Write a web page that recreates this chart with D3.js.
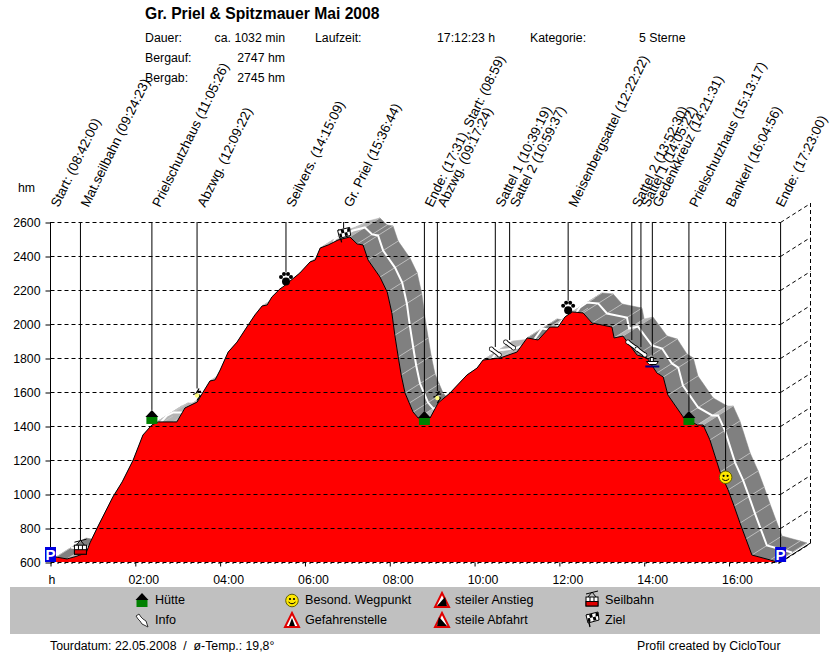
<!DOCTYPE html>
<html lang="en">
<head>
<meta charset="UTF-8">
<title>Gr. Priel & Spitzmauer Mai 2008</title>
<script src="https://d3js.org/d3.v7.min.js"></script>
<style>
  body { margin: 0; background: #fff; }
  text { font-family: "Liberation Sans", Arial, sans-serif; font-size: 12.3px; fill: #000; white-space: pre; }
</style>
</head>
<body>
<svg width="830" height="652"></svg>
<script>
// hours since start, height in hm
const profileHours = [0.13,0.39,0.58,0.84,0.93,1.10,1.47,1.69,1.95,2.18,2.39,2.54,2.89,2.98,3.17,3.46,3.60,3.76,3.88,4.00,4.19,4.40,4.63,4.82,4.99,5.11,5.22,5.41,5.48,5.88,6.12,6.24,6.36,6.55,6.78,7.06,7.23,7.37,7.49,7.77,7.94,8.05,8.12,8.20,8.27,8.36,8.46,8.55,8.67,8.95,9.14,9.42,9.82,10.06,10.20,10.60,11.00,11.24,11.50,11.78,11.97,12.13,12.30,12.56,12.77,13.24,13.29,13.50,13.83,14.07,14.30,14.45,14.56,14.92,15.25,15.39,15.55,15.79,15.98,16.12,16.26,16.40,16.54,16.97,17.13];
const profileHeights = [629,618,631,653,712,800,982,1071,1200,1347,1406,1424,1424,1424,1506,1541,1600,1665,1671,1729,1835,1894,1982,2053,2106,2112,2159,2206,2218,2300,2365,2376,2447,2465,2494,2512,2471,2465,2376,2276,2188,2065,1934,1806,1700,1594,1535,1482,1447,1447,1535,1594,1700,1741,1788,1800,1835,1918,1906,1982,1982,2041,2071,2065,2006,1982,1918,1929,1818,1800,1712,1688,1582,1453,1406,1406,1318,1129,1024,929,829,735,641,612,600];

const markerLabels = ["Start: (08:42:00)","Mat.seilbahn (09:24:23)","Prielschutzhaus (11:05:26)","Abzwg. (12:09:22)","Seilvers. (14:15:09)","Gr. Priel (15:36:44)","Ende: (17:31), Start: (08:59)","Abzwg. (09:17:24)","Sattel 1 (10:39:19)","Sattel 2 (10:59:37)","Meisenbergsattel (12:22:22)","Sattel 2 (13:52:30)","Sattel 1 (14:05:22)","Gedenkkreuz (14:21:31)","Prielschutzhaus (15:13:17)","Bankerl (16:04:56)","Ende: (17:23:00)"];
const markerHours = [0,0.706,2.391,3.456,5.553,6.912,8.817,9.123,10.489,10.827,12.207,13.708,13.923,14.192,15.055,15.92,17.217];
const markerHeights = [600,640,1412,1550,2230,2480,1406,1535,1806,1847,2060,1847,1806,1750,1406,1060,600];
const markerIcons = ["park","gondola","hut","info","paw","flag","hut","info","bone","bone","paw","bone","bone","cross","hut","smile","park"];

const heightTicks = [600,800,1000,1200,1400,1600,1800,2000,2200,2400,2600];
const hourTicks = [0,2,4,6,8,10,12,14,16];
const hourTickLabels = ["h","02:00","04:00","06:00","08:00","10:00","12:00","14:00","16:00"];

const legendCol1 = [["hut","Hütte"],["pin","Info"]];
const legendCol2 = [["smile","Besond. Wegpunkt"],["danger","Gefahrenstelle"]];
const legendCol3 = [["up","steiler Anstieg"],["down","steile Abfahrt"]];
const legendCol4 = [["gondola","Seilbahn"],["flag","Ziel"]];

const svg = d3.select("svg");

const x = d3.scaleLinear().domain([0, 16]).range([50.5, 729]);
const y = d3.scaleLinear().domain([600, 2600]).range([562, 222]);
const depth = { x: 30, y: -19 };   // 3d offset of the back wall

const pts = profileHours.map((h, i) => [x(h), y(profileHeights[i])]);

// header
svg.append("text").attr("x", 145).attr("y", 19)
   .style("font-size", "15.7px").style("font-weight", "bold")
   .text("Gr. Priel & Spitzmauer Mai 2008");

const info = [[145,42,"Dauer:","start"],[285,42,"ca. 1032 min","end"],[315,42,"Laufzeit:","start"],[437,42,"17:12:23 h","start"],[530,42,"Kategorie:","start"],[639,42,"5 Sterne","start"],
              [145,62,"Bergauf:","start"],[285,62,"2747 hm","end"],[145,82,"Bergab:","start"],[285,82,"2745 hm","end"]];
svg.selectAll("text.info").data(info).enter().append("text").attr("class","info")
   .attr("x", d => d[0]).attr("y", d => d[1]).attr("text-anchor", d => d[3]).text(d => d[2]);

svg.append("text").attr("x", 18).attr("y", 192).text("hm");

// 3d ribbon behind the profile
const ribbon = svg.append("g");
pts.slice(0, -1).forEach((p, i) => {
  const q = pts[i + 1];
  const down = q[1] > p[1] + 0.5;
  ribbon.append("polygon")
    .attr("points", [p, q, [q[0] + depth.x, q[1] + depth.y], [p[0] + depth.x, p[1] + depth.y]].join(" "))
    .attr("fill", down ? "#808080" : "#b4b4b4")
    .attr("stroke", down ? "#808080" : "#b4b4b4").attr("stroke-width", 0.5);
});
ribbon.selectAll("line").data(pts).enter().append("line")
  .attr("x1", d => d[0]).attr("y1", d => d[1])
  .attr("x2", d => d[0] + depth.x).attr("y2", d => d[1] + depth.y)
  .attr("stroke", "#c8c8c8").attr("stroke-width", 0.8);
ribbon.append("path")
  .attr("d", d3.line()(pts.map(p => [p[0] + depth.x / 2, p[1] + depth.y / 2])))
  .attr("fill", "none").attr("stroke", "#fff").attr("stroke-width", 2);

// profile
const area = d3.area().x(d => d[0]).y0(y(600)).y1(d => d[1]);
svg.append("path").attr("d", area(pts)).attr("fill", "#ff0000");
svg.append("path").attr("d", d3.line()(pts)).attr("fill", "none").attr("stroke", "#000").attr("stroke-width", 1);

// grid and back wall
const grid = svg.append("g").attr("stroke", "#000").attr("stroke-dasharray", "4,3");
heightTicks.forEach(v => {
  grid.append("line").attr("x1", x.range()[0]).attr("x2", 780.5).attr("y1", y(v) + 0.5).attr("y2", y(v) + 0.5);
  grid.append("line").attr("x1", 780.5).attr("y1", y(v) + 0.5).attr("x2", 780.5 + depth.x).attr("y2", y(v) + depth.y + 0.5);
});
grid.append("line").attr("x1", 810.5).attr("x2", 810.5).attr("y1", y(2600) + depth.y).attr("y2", y(600) + depth.y);
svg.append("line").attr("x1", 780.5).attr("y1", y(600)).attr("x2", 810.5).attr("y2", y(600) + depth.y).attr("stroke", "#000");

// axes
const yAxis = svg.append("g").attr("transform", "translate(50.5,0.5)")
  .call(d3.axisLeft(y).tickValues(heightTicks).tickFormat(d3.format("d")).tickSize(5).tickPadding(5));
yAxis.select(".domain").remove();
yAxis.selectAll("text").style("font-size", "12.3px");
const xAxis = svg.append("g").attr("transform", "translate(0,562.5)")
  .call(d3.axisBottom(x).tickValues(hourTicks).tickFormat((d, i) => hourTickLabels[i]).tickSize(4).tickPadding(9));
xAxis.select(".domain").remove();
xAxis.selectAll("text").attr("dx", (d, i) => i ? 8 : 1).style("font-size", "12.3px");
// row of minor ticks under the profile
svg.append("line").attr("x1", 50.5).attr("x2", 780.5).attr("y1", 563.5).attr("y2", 563.5)
   .attr("stroke", "#000").attr("stroke-dasharray", "1,6");

// small icons, origin is bottom centre of the icon
const iconHeight = { park: 15, gondola: 15, hut: 14, info: 12, paw: 13, flag: 14, bone: 10, cross: 11, smile: 13 };
function drawIcon(g, name) {
  if (name === "park") {
    g.append("rect").attr("x", -5.5).attr("y", -15).attr("width", 11).attr("height", 15).attr("fill", "#0000e0");
    g.append("text").attr("x", 0).attr("y", -2.5).attr("text-anchor", "middle").style("font-size", "15px").style("font-weight", "bold").style("fill", "#fff").text("P");
  } else if (name === "hut") {
    g.append("rect").attr("x", -5.5).attr("y", -7.5).attr("width", 11).attr("height", 7.5).attr("fill", "#008000");
    g.append("path").attr("d", "M-6.5,-7 L0,-14 L6.5,-7 Z").attr("fill", "#000");
  } else if (name === "gondola") {
    g.append("path").attr("d", "M-4,-10 L0,-15 L4,-10").attr("fill", "none").attr("stroke", "#000");
    g.append("path").attr("d", "M-6,-13 L6,-16").attr("stroke", "#000");
    g.append("rect").attr("x", -6).attr("y", -10).attr("width", 12).attr("height", 9).attr("fill", "#fff").attr("stroke", "#000");
    g.append("rect").attr("x", -6).attr("y", -5.5).attr("width", 12).attr("height", 4.5).attr("fill", "#e00000").attr("stroke", "#000");
    g.append("path").attr("d", "M-2,-10 V-5.5 M2,-10 V-5.5").attr("stroke", "#000");
  } else if (name === "info") {
    g.append("path").attr("d", "M2,-12 L-1,-7 L-4,-6 M-1,-7 L3,-5 L0,0 M0,-9 L4,-9").attr("fill", "none").attr("stroke", "#000").attr("stroke-width", 1.3);
    g.append("circle").attr("cx", 0).attr("cy", -5).attr("r", 2.2).attr("fill", "#ffff80");
  } else if (name === "paw") {
    g.append("ellipse").attr("cx", 0).attr("cy", -3.5).attr("rx", 4).attr("ry", 4).attr("fill", "#000");
    [[-5, -8], [-2, -11], [2, -11], [5, -8]].forEach(c =>
      g.append("circle").attr("cx", c[0]).attr("cy", c[1]).attr("r", 2).attr("fill", "#000"));
  } else if (name === "flag") {
    g.append("path").attr("d", "M-5,-13 L-2,0").attr("stroke", "#000").attr("stroke-width", 1.3);
    g.append("path").attr("d", "M-6,-12 L6,-15 L7,-7 L-4,-4 Z").attr("fill", "#fff").attr("stroke", "#000");
    g.append("path").attr("d", "M-3,-12.5 L0,-13.2 L0.8,-9.7 L-2,-9 Z M0.8,-9.7 L3.6,-10.4 L4.4,-7 L1.6,-6.3 Z M3.6,-14 L6,-14.6 L6.3,-11 L3.6,-10.4 Z M-4.4,-8.7 L-2,-9 L-1.4,-5.4 L-3.6,-4.6 Z").attr("fill", "#000");
  } else if (name === "bone") {
    [["#000", 4.4, 3.4], ["#fff", 2.6, 2.4]].forEach(s => {
      g.append("line").attr("x1", -4).attr("y1", -8).attr("x2", 4).attr("y2", -2).attr("stroke", s[0]).attr("stroke-width", s[1]);
      g.append("circle").attr("cx", -4).attr("cy", -8).attr("r", s[2] / 1.4).attr("fill", s[0]);
      g.append("circle").attr("cx", 4).attr("cy", -2).attr("r", s[2] / 1.4).attr("fill", s[0]);
    });
  } else if (name === "cross") {
    g.append("path").attr("d", "M-7,0 H7").attr("stroke", "#000080").attr("stroke-width", 2);
    g.append("path").attr("d", "M-6,-5 H6 L4,-2 H-3 Z").attr("fill", "#fff").attr("stroke", "#000");
    g.append("rect").attr("x", -2).attr("y", -9).attr("width", 3).attr("height", 4).attr("fill", "#fff").attr("stroke", "#000");
  } else if (name === "smile") {
    g.append("circle").attr("cx", 0).attr("cy", -6.5).attr("r", 6.3).attr("fill", "#ffe800").attr("stroke", "#606000");
    g.append("circle").attr("cx", -2).attr("cy", -8).attr("r", 1.1).attr("fill", "#000");
    g.append("circle").attr("cx", 2).attr("cy", -8).attr("r", 1.1).attr("fill", "#000");
    g.append("path").attr("d", "M-3.5,-5 Q0,-1.5 3.5,-5").attr("fill", "none").attr("stroke", "#000");
  } else if (name === "pin") {
    g.append("path").attr("d", "M-6,-11 L-3,-13 L-1,-10 L1,-8 L4,-6 L6,0 L0,-3 L-2,-6 L-4,-8 Z").attr("fill", "#fff").attr("stroke", "#333");
  } else if (name === "danger" || name === "up" || name === "down") {
    g.append("path").attr("d", "M0,-14 L7,0 H-7 Z").attr("fill", "#fff").attr("stroke", "#e00000").attr("stroke-width", 2);
    if (name === "danger") g.append("path").attr("d", "M0,-9 L-3,-1 H3 Z").attr("fill", "#000");
    if (name === "up") g.append("path").attr("d", "M-5,-1 L3,-10 L5,-1 Z").attr("fill", "#000");
    if (name === "down") g.append("path").attr("d", "M5,-1 L-3,-10 L-5,-1 Z").attr("fill", "#000");
  }
}

// markers: vertical line, icon and slanted label
markerLabels.forEach((label, i) => {
  const mx = x(markerHours[i]), base = y(markerHeights[i]);
  svg.append("line").attr("x1", mx).attr("x2", mx).attr("y1", y(2600))
     .attr("y2", base - iconHeight[markerIcons[i]]).attr("stroke", "#000");
  drawIcon(svg.append("g").attr("transform", `translate(${mx},${base})`), markerIcons[i]);
  // last label sits against the right edge
  const lx = i === markerLabels.length - 1 ? mx + 3 : mx + 8;
  svg.append("text").attr("transform", `translate(${lx},208) rotate(-64)`).style("font-size", "13.4px").text(label);
});

// legend strip
svg.append("rect").attr("x", 10).attr("y", 587).attr("width", 810).attr("height", 47).attr("fill", "#c0c0c0");
[[142, legendCol1], [292, legendCol2], [442, legendCol3], [592, legendCol4]].forEach(col => {
  col[1].forEach((d, r) => {
    drawIcon(svg.append("g").attr("transform", `translate(${col[0]},${607 + r * 20})`), d[0]);
    svg.append("text").attr("x", col[0] + 13).attr("y", 604 + r * 20).style("font-size", "12.6px").text(d[1]);
  });
});

svg.append("text").attr("x", 50).attr("y", 650).text("Tourdatum: 22.05.2008  /  ø-Temp.: 19,8°");
svg.append("text").attr("x", 637).attr("y", 650).text("Profil created by CicloTour");
</script>
</body>
</html>
